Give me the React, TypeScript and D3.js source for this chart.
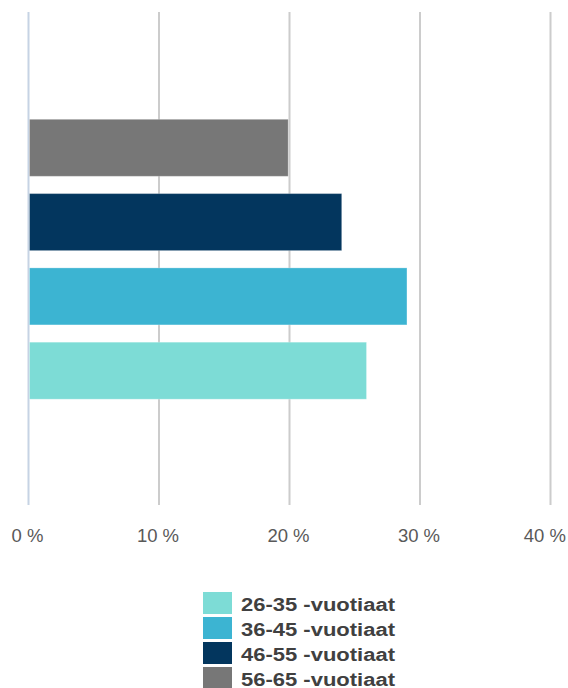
import React from "react";
import * as d3 from "d3";

const series = ["26-35 -vuotiaat", "36-45 -vuotiaat", "46-55 -vuotiaat", "56-65 -vuotiaat"];
const values = [25.9, 29.0, 24.0, 19.9];
const colors = ["#7ddcd6", "#3cb4d2", "#03365e", "#777777"];
const ticks = [0, 10, 20, 30, 40];

const W = 568;
const H = 688;

export default function App() {
  const x = d3.scaleLinear().domain([0, 40]).range([28.5, 550.5]);
  const plotTop = 12;
  const plotBottom = 505;
  const order = [...series].reverse();
  const step = 74.3;
  const barH = 57;
  const y = d3
    .scaleBand<string>()
    .domain(order)
    .range([119.3, 119.3 + 3 * step + barH])
    .paddingInner((step - barH) / step)
    .paddingOuter(0);

  return (
    <svg width={W} height={H} style={{ position: "absolute", left: 0, top: 0, fontFamily: "Arial, 'Liberation Sans', sans-serif" }}>
      <rect width={W} height={H} fill="#fff" />
      {ticks.map((t) => (
        <line
          key={t}
          x1={x(t)}
          x2={x(t)}
          y1={plotTop}
          y2={plotBottom}
          stroke={t === 0 ? "#c6d3e4" : "#cccccc"}
          strokeWidth={2}
        />
      ))}
      {order.map((s) => {
        const i = series.indexOf(s);
        return (
          <rect
            key={s}
            x={x(0) + 1}
            y={y(s)}
            width={x(values[i]) - x(0) - 1}
            height={y.bandwidth()}
            fill={colors[i]}
            stroke="#ffffff"
            strokeOpacity={0.25}
            strokeWidth={1}
          />
        );
      })}
      {ticks.map((t, i) => (
        <text
          key={t}
          x={i === ticks.length - 1 ? 566 : x(t) - 1}
          y={542}
          textAnchor={i === ticks.length - 1 ? "end" : "middle"}
          fontSize={18.5}
          fill="#595959"
        >
          {t} %
        </text>
      ))}
      {series.map((s, i) => (
        <g key={s} transform={`translate(203, ${592 + i * 25})`}>
          <rect width={29} height={22} fill={colors[i]} />
          <text
            x={38}
            y={19.3}
            fontSize={17.5}
            fontWeight="bold"
            fill="#404040"
            textLength={154}
            lengthAdjust="spacingAndGlyphs"
          >
            {s}
          </text>
        </g>
      ))}
    </svg>
  );
}
